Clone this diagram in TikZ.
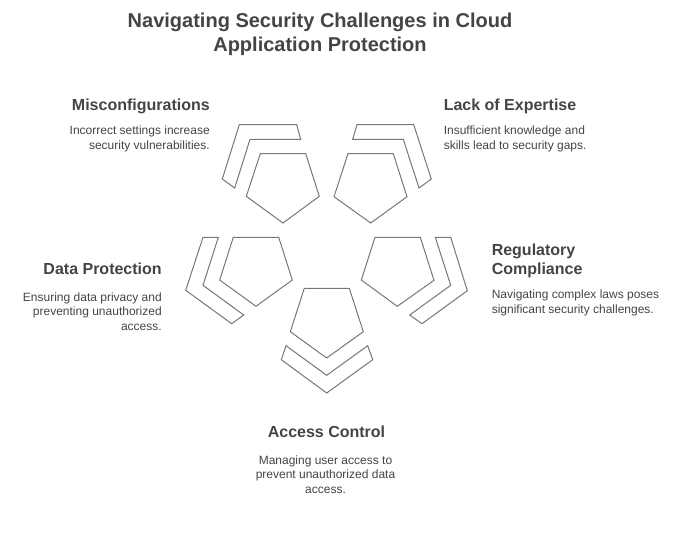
\documentclass[tikz,border=0pt]{standalone}
\usepackage{fontspec}
\setmainfont{Liberation Sans}
\definecolor{inkgray}{HTML}{444444}
\definecolor{edgegray}{HTML}{777777}
\tikzset{
    shape line/.style={draw=edgegray, line width=0.75pt, line join=miter},
    title text/.style={text=inkgray, inner sep=0pt, font=\bfseries\fontsize{15}{18}\selectfont, align=center},
    head text/.style={text=inkgray, inner sep=0pt, font=\bfseries\fontsize{12}{14.3}\selectfont},
    body text/.style={text=inkgray, inner sep=0pt, font=\fontsize{9}{10.9}\selectfont},
}

\begin{document}
\begin{tikzpicture}[x=0.75pt, y=-0.75pt]
    \useasboundingbox (0, 0) rectangle (693, 539);
    % pentagons
    \draw [shape line] (260.3, 153.7) -- (305.7, 153.7) -- (319.3, 196.3) -- (283, 223) -- (246.3, 196.3) -- cycle;
    \draw [shape line] (348, 153.7) -- (393.3, 153.7) -- (407, 196.7) -- (370.7, 223) -- (334, 196.7) -- cycle;
    \draw [shape line] (233.3, 237.3) -- (278.7, 237.3) -- (292.3, 280) -- (256, 306.3) -- (219.7, 280) -- cycle;
    \draw [shape line] (375, 237.3) -- (420.3, 237.3) -- (434, 280.3) -- (397.3, 306.3) -- (361.3, 280) -- cycle;
    \draw [shape line] (304.3, 288.3) -- (349.3, 288.3) -- (363.3, 331.7) -- (326.7, 358) -- (290.3, 331.7) -- cycle;
    % bent bands
    \draw [shape line] (239.3, 124.7) -- (296.7, 124.7) -- (300.7, 139.3) -- (250, 139.3) -- (234.7, 188) -- (222.3, 179) -- cycle;
    \draw [shape line] (357, 124.7) -- (413.7, 124.7) -- (431.3, 179) -- (419, 188) -- (403.3, 139.3) -- (352.7, 139.3) -- cycle;
    \draw [shape line] (203, 237.3) -- (218.3, 237.3) -- (203, 285.3) -- (243.7, 315) -- (231.7, 323.7) -- (185.7, 290.3) -- cycle;
    \draw [shape line] (435.3, 237.3) -- (450.7, 237.3) -- (467.3, 290.7) -- (422, 323.7) -- (409.7, 315) -- (450.7, 285.3) -- cycle;
    \draw [shape line] (286, 345.7) -- (326.7, 375.3) -- (367.7, 345.7) -- (372.7, 359.7) -- (326.7, 393) -- (281.3, 359.7) -- cycle;
    % texts
    \node [title text] (title) at (320, 34.4) {Navigating Security Challenges in Cloud\\Application Protection};
    \node [head text, anchor=east] (misconfig) at (210, 106) {Misconfigurations};
    \node [body text, anchor=east, align=right] (misconfigtext) at (210, 138.7) {Incorrect settings increase\\security vulnerabilities.};
    \node [head text, anchor=west] (expertise) at (443.5, 106) {Lack of Expertise};
    \node [body text, anchor=west, align=left] (expertisetext) at (443.5, 138.7) {Insufficient knowledge and\\skills lead to security gaps.};
    \node [head text, anchor=east] (protection) at (162, 268.6) {Data Protection};
    \node [body text, anchor=east, align=right] (protectiontext) at (162, 311.6) {Ensuring data privacy and\\preventing unauthorized\\access.};
    \node [head text, anchor=west, align=left] (compliance) at (491.5, 260.6) {Regulatory\\Compliance};
    \node [body text, anchor=west, align=left] (compliancetext) at (491.5, 303) {Navigating complex laws poses\\significant security challenges.};
    \node [head text] (access) at (326.5, 431.6) {Access Control};
    \node [body text, align=center] (accesstext) at (325.5, 474.6) {Managing user access to\\prevent unauthorized data\\access.};
\end{tikzpicture}
\end{document}
